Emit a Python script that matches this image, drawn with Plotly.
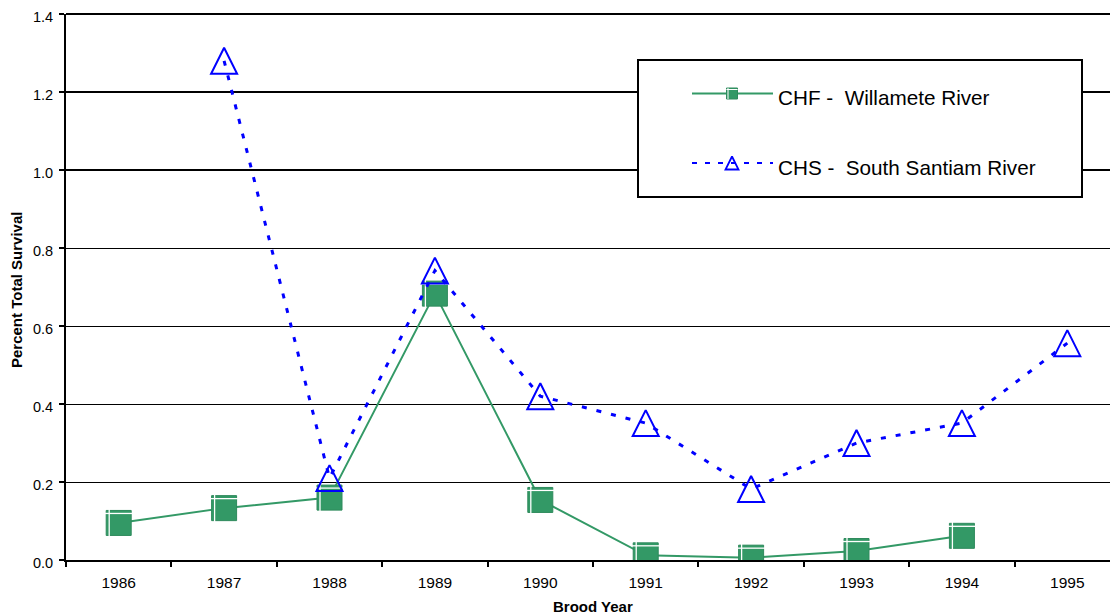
import plotly.graph_objects as go

# ---- data ----
years = ["1986", "1987", "1988", "1989", "1990", "1991", "1992", "1993", "1994", "1995"]
chf_willamette = [0.095, 0.133, 0.160, 0.683, 0.154, 0.012, 0.006, 0.023, 0.062, None]
chs_south_santiam = [None, 1.28, 0.21, 0.742, 0.42, 0.351, 0.182, 0.300, 0.351, 0.556]
y_tick_values = [0.0, 0.2, 0.4, 0.6, 0.8, 1.0, 1.2, 1.4]
series_names = ["CHF -  Willamete River", "CHS -  South Santiam River"]
x_title = "Brood Year"
y_title = "Percent Total Survival"

GREEN = "#339966"
BLUE = "#0000FF"
FONT = "Liberation Sans, Arial, sans-serif"

# plot-area geometry (pixels)
L, R, T, B = 66, 1110, 14, 560
X_RANGE = [-0.5, 9.405]
Y_RANGE = [0, 1.4]


def px_to_x(p):
    return X_RANGE[0] + (p - L) / (R - L) * (X_RANGE[1] - X_RANGE[0])


def px_to_y(p):
    return Y_RANGE[0] + (B - p) / (B - T) * (Y_RANGE[1] - Y_RANGE[0])


fig = go.Figure()

# CHF line + square markers
fig.add_trace(go.Scatter(
    x=years, y=chf_willamette, mode="lines+markers", name=series_names[0],
    line=dict(color=GREEN, width=2),
    marker=dict(symbol="square", size=25, color=GREEN, line=dict(color="#2e8a5c", width=1)),
    showlegend=False,
))
# white bevel highlight (top & left) on squares
fig.add_trace(go.Scatter(
    x=years, y=chf_willamette, mode="markers", hoverinfo="skip", showlegend=False,
    marker=dict(symbol="line-ew", size=20, angle=180, standoff=9.5,
                color="white", line=dict(color="white", width=1.3)),
))
fig.add_trace(go.Scatter(
    x=years, y=chf_willamette, mode="markers", hoverinfo="skip", showlegend=False,
    marker=dict(symbol="line-ew", size=20, angle=90, standoff=9.5,
                color="white", line=dict(color="white", width=1.3)),
))

# CHS dashed line + open triangles
fig.add_trace(go.Scatter(
    x=years, y=chs_south_santiam, mode="lines+markers", name=series_names[1],
    line=dict(color=BLUE, width=3, dash="5px,10px"),
    marker=dict(symbol="arrow-down-open", size=26, angle=180, standoff=13,
                color=BLUE, line=dict(color=BLUE, width=2)),
    showlegend=False,
))

# ---- manual legend drawn on a pixel-mapped overlay axis ----
fig.add_trace(go.Scatter(
    x=[692, 773], y=[93.5, 93.5], xaxis="x2", yaxis="y2", mode="lines",
    line=dict(color=GREEN, width=2), hoverinfo="skip", showlegend=False,
))
fig.add_trace(go.Scatter(
    x=[732], y=[93.5], xaxis="x2", yaxis="y2", mode="markers",
    marker=dict(symbol="square", size=11, color=GREEN, line=dict(color="#2e8a5c", width=1)),
    hoverinfo="skip", showlegend=False,
))
fig.add_trace(go.Scatter(
    x=[732], y=[93.5], xaxis="x2", yaxis="y2", mode="markers",
    marker=dict(symbol="line-ew", size=8, angle=180, standoff=4,
                color="white", line=dict(color="white", width=1)),
    hoverinfo="skip", showlegend=False,
))
fig.add_trace(go.Scatter(
    x=[732], y=[93.5], xaxis="x2", yaxis="y2", mode="markers",
    marker=dict(symbol="line-ew", size=8, angle=90, standoff=4,
                color="white", line=dict(color="white", width=1)),
    hoverinfo="skip", showlegend=False,
))
fig.add_trace(go.Scatter(
    x=[692, 773], y=[163, 163], xaxis="x2", yaxis="y2", mode="lines",
    line=dict(color=BLUE, width=2, dash="5px,8px"), hoverinfo="skip", showlegend=False,
))
fig.add_trace(go.Scatter(
    x=[732], y=[163], xaxis="x2", yaxis="y2", mode="markers",
    marker=dict(symbol="arrow-down-open", size=13, angle=180, standoff=6.5,
                color=BLUE, line=dict(color=BLUE, width=1.8)),
    hoverinfo="skip", showlegend=False,
))

# upper gridlines render heavier in the reference
shapes = []
for v in y_tick_values:
    if v >= 1.0:
        if v >= Y_RANGE[1]:
            # top edge line: paper-referenced so it is not clipped by the plot area
            shapes.append(dict(type="line", xref="paper", yref="paper", x0=0, x1=1, y0=1, y1=1,
                               line=dict(color="black", width=2), layer="below"))
        else:
            shapes.append(dict(type="line", xref="paper", yref="y", x0=0, x1=1, y0=v, y1=v,
                               line=dict(color="black", width=2), layer="between"))
shapes.append(dict(type="rect", xref="x", yref="y",
                   x0=px_to_x(638), x1=px_to_x(1082), y0=px_to_y(60), y1=px_to_y(197),
                   line=dict(color="black", width=2), fillcolor="white", layer="between"))

annotations = [
    dict(xref="x2", yref="y2", x=776, y=97, text=series_names[0], showarrow=False,
         xanchor="left", yanchor="middle", font=dict(family=FONT, size=20.7, color="black")),
    dict(xref="x2", yref="y2", x=776, y=167, text=series_names[1], showarrow=False,
         xanchor="left", yanchor="middle", font=dict(family=FONT, size=20.7, color="black")),
    dict(xref="paper", yref="paper", x=(16 - L) / (R - L), y=(B - 290) / (B - T),
         text="<b>%s</b>" % y_title, showarrow=False,
         textangle=-90, xanchor="center", yanchor="middle",
         font=dict(family=FONT, size=15, color="black")),
    dict(xref="paper", yref="paper", x=(593 - L) / (R - L), y=(B - 606) / (B - T),
         text="<b>%s</b>" % x_title, showarrow=False,
         xanchor="center", yanchor="middle", font=dict(family=FONT, size=15, color="black")),
]

fig.update_layout(
    width=1110, height=615,
    margin=dict(l=L, r=1110 - R, t=T, b=615 - B, pad=0),
    paper_bgcolor="white", plot_bgcolor="rgba(0,0,0,0)",
    font=dict(family=FONT, size=15, color="black"),
    showlegend=False,
    shapes=shapes, annotations=annotations,
    xaxis=dict(
        type="category", range=X_RANGE, tickson="boundaries",
        showline=True, linecolor="black", linewidth=2,
        ticks="outside", ticklen=5, tickwidth=2, tickcolor="black",
        showgrid=False, zeroline=False, ticklabelstandoff=7,
        tickfont=dict(family=FONT, size=15.5, color="black"),
    ),
    yaxis=dict(
        range=Y_RANGE, tickvals=y_tick_values, tickformat=".1f",
        showline=True, linecolor="black", linewidth=2,
        ticks="outside", ticklen=5, tickwidth=1.5, tickcolor="black",
        showgrid=True, gridcolor="black", gridwidth=1,
        zeroline=False, ticklabelstandoff=3, ticklabelshift=3,
        tickfont=dict(family=FONT, size=14.5, color="black"),
    ),
    xaxis2=dict(overlaying="x", range=[L, R], visible=False, fixedrange=True),
    yaxis2=dict(overlaying="y", range=[B, T], visible=False, fixedrange=True),
)

fig.write_html("out.html", config={"displayModeBar": False},
               post_script="document.body.style.margin='0';")
